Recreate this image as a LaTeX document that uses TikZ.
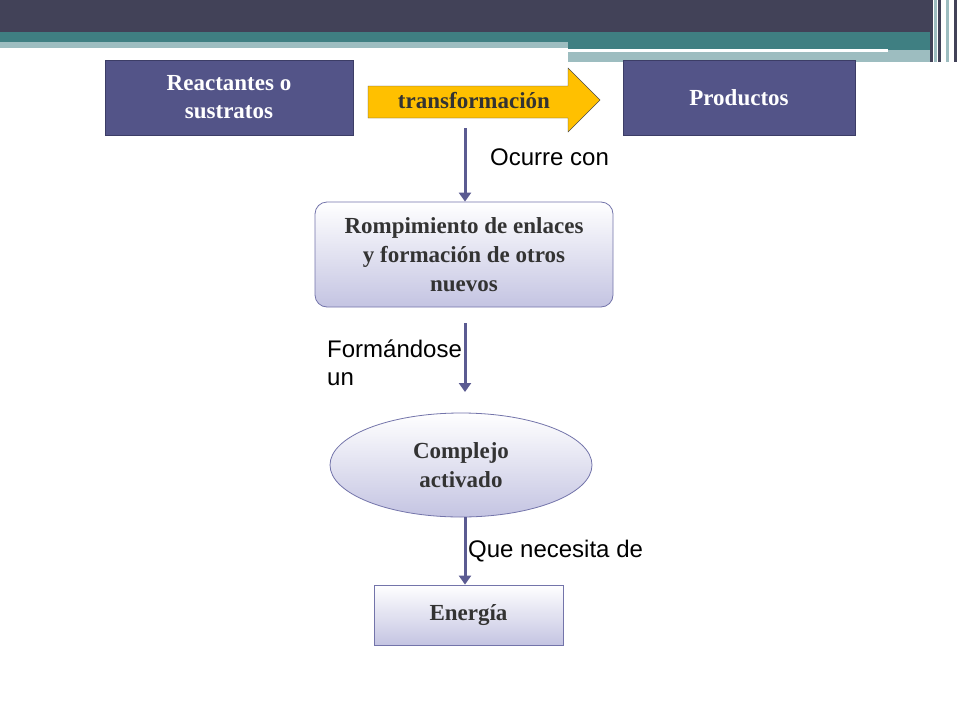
\documentclass[tikz,border=0pt]{standalone}
\usepackage{fontspec}
\setmainfont{Liberation Serif}
\setsansfont{Liberation Sans}
\usetikzlibrary{shapes.geometric,arrows.meta}
\definecolor{dbar}{HTML}{424258}
\definecolor{teal1}{HTML}{3F7F82}
\definecolor{teal2}{HTML}{9DBDC0}
\definecolor{boxc}{HTML}{535488}
\definecolor{boxb}{HTML}{3C3D66}
\definecolor{lav}{HTML}{C4C4E2}
\definecolor{lavb}{HTML}{7374AA}
\definecolor{arr}{HTML}{5B5B92}
\definecolor{gold}{HTML}{FFC000}
\tikzset{
 dark/.style={draw=boxb,fill=boxc,text=white,font=\bfseries\fontsize{23}{28}\selectfont,align=center},
 grad/.style={draw=lavb,line width=0.8pt,top color=white,bottom color=lav,font=\bfseries\fontsize{23}{29}\selectfont,align=center,text=black!80},
 conn/.style={draw=arr,line width=3pt,-{Triangle[length=9pt,width=12pt]}},
 lbl/.style={font=\sffamily\fontsize{24}{28}\selectfont,align=left,inner sep=0pt}
}
\begin{document}
\begin{tikzpicture}[x=1pt,y=-1pt]
\useasboundingbox (0,0) rectangle (960,720);
\fill[white] (0,0) rectangle (960,720);
\fill[dbar] (0,0) rectangle (930,32);
\fill[teal1] (0,32) rectangle (930,42);
\fill[teal2] (0,42) rectangle (568,48);
\fill[teal1] (568,42) rectangle (930,50);
\fill[teal2] (568,50) rectangle (930,62);
\fill[white] (568,49) rectangle (888,52);
\foreach \x/\c in {930/dbar,934/teal2,938/dbar,942/white,946/teal2,950/white,954/dbar}
  \fill[\c] (\x,0) rectangle (\x+2.5,62);
\node[dark,minimum width=248,minimum height=75] (r) at (229,97.5) {Reactantes o\\sustratos};
\node[dark,minimum width=232,minimum height=75] (p) at (739,97.5) {Productos};
\draw[draw=black!70,fill=gold] (368,86) -- (568,86) -- (568,68) -- (600,100) -- (568,132) -- (568,118) -- (368,118) -- cycle;
\node[font=\bfseries\fontsize{23}{28}\selectfont,text=black!80] (tl) at (474,101) {transformación};
\node[grad,rounded corners=12pt,minimum width=298,minimum height=105] (b) at (464,254.5) {Rompimiento de enlaces\\y formación de otros\\nuevos};
\node[grad,ellipse,minimum width=262,minimum height=104,inner sep=0pt] (e) at (461,465) {Complejo\\activado};
\node[grad,minimum width=189,minimum height=60] (en) at (468.5,615) {Energía};
\coordinate (a1) at (465,128);
\draw[conn] (a1) -- (b.north -| a1);
\draw[conn] (b.south -| a1) ++(0,16) coordinate (a2) -- (465,392) coordinate (a3);
\draw[conn] (e.south -| a1) -- (en.north -| a1);
\node[lbl,anchor=west] (l1) at (490,157) {Ocurre con};
\node[lbl,anchor=north west] (l2) at (327,340) {Formándose\\un};
\node[lbl,anchor=west] (l3) at (468,551) {Que necesita de};
\end{tikzpicture}
\end{document}
